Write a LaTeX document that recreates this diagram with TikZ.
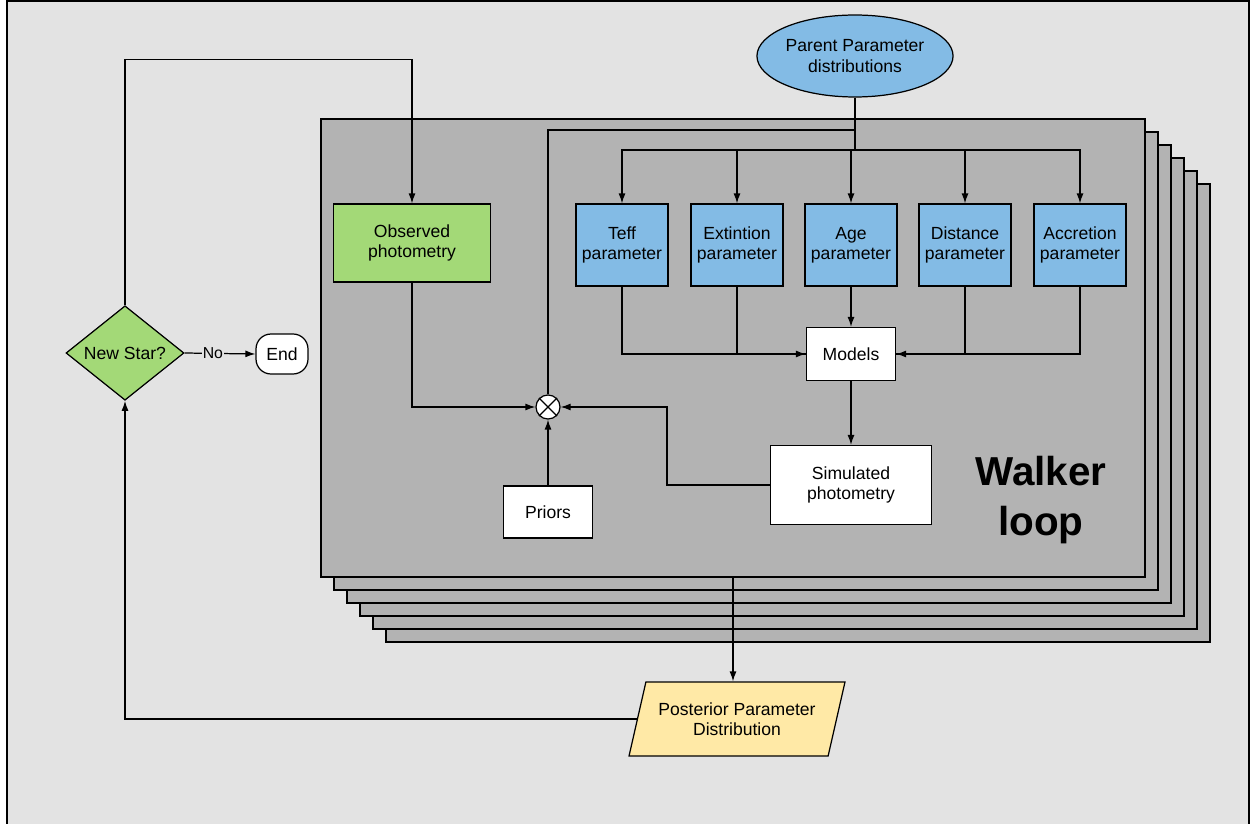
\documentclass[tikz,border=0pt]{standalone}
\usepackage{fontspec}
\setmainfont{Liberation Sans}
\usetikzlibrary{shapes.geometric,arrows.meta}

\definecolor{bggray}{HTML}{E3E3E3}
\definecolor{sheetgray}{HTML}{B3B3B3}
\definecolor{parblue}{HTML}{83BBE5}
\definecolor{obsgreen}{HTML}{A3D977}
\definecolor{postyellow}{HTML}{FFE9A6}

\begin{document}
\begin{tikzpicture}[x=0.02cm, y=-0.02cm, >={Latex[length=2mm,width=1.4mm]}, line width=0.7pt, font=\fontsize{10}{11.5}\selectfont]

\tikzstyle sheet=[draw, fill=sheetgray]
\tikzstyle param=[draw, fill=parblue, align=center, minimum width=1.84cm, minimum height=1.64cm, inner sep=0]
\tikzstyle block=[draw, fill=white, align=center, inner sep=0]

\useasboundingbox (0,0) rectangle (1250,824);
\draw[fill=bggray] (7,1) rectangle (1249,840);

% stack of walkers
\foreach \i in {5,4,...,1}
  \draw[sheet] (321+13*\i,119+13*\i) rectangle ++(824,458);
\node (walker) [sheet, minimum width=16.48cm, minimum height=9.16cm, inner sep=0] at (733,348) {};
\node (loop) [font=\fontsize{23}{28.5}\selectfont\bfseries, align=center] at (1041,500) {Walker\\loop};

\node (parent) [ellipse, draw, fill=parblue, align=center, minimum width=3.52cm, minimum height=1.64cm, inner sep=0] at (855,56) {Parent Parameter\\distributions};

\node (teff) [param] at (622,245) {Teff\\parameter};
\node (ext)  [param] at (737,245) {Extintion\\parameter};
\node (age)  [param] at (851,245) {Age\\parameter};
\node (dist) [param] at (965,245) {Distance\\parameter};
\node (acc)  [param] at (1080,245) {Accretion\\parameter};

\node (obs) [draw, fill=obsgreen, align=center, minimum width=3.14cm, minimum height=1.56cm, inner sep=0] at (412,243) {Observed\\photometry};
\node (models) [block, minimum width=1.78cm, minimum height=1.06cm] at (851,354) {Models};
\node (sim) [block, minimum width=3.22cm, minimum height=1.58cm] at (851,485) {Simulated\\photometry};
\node (priors) [block, minimum width=1.78cm, minimum height=1.04cm] at (548,512) {Priors};
\node (comb) [circle, draw, fill=white, minimum size=0.48cm, inner sep=0] at (548,407) {};
\draw (comb.north west) -- (comb.south east);
\draw (comb.north east) -- (comb.south west);

\node (star) [diamond, draw, fill=obsgreen, minimum width=2.36cm, minimum height=1.86cm, inner sep=0] at (125,353) {New Star?};
\node (end) [draw, fill=white, rounded corners=0.3cm, minimum width=1.04cm, minimum height=0.8cm] at (282,354) {End};
\node (post) [trapezium, trapezium left angle=63, trapezium right angle=117, trapezium stretches body=true, draw, fill=postyellow, align=center, minimum width=4.32cm, minimum height=1.48cm, inner sep=0] at (737,719) {Posterior Parameter\\Distribution};

\coordinate (tap) at (855,130);
\coordinate (split) at (855,150);

\draw (parent.south) -- (split);
\draw (tap) -| (comb.north);
\draw [->] (split) -| (teff.north);
\draw [->] (split) -| (ext.north);
\draw [->] (split) -- (split -| age.north) -- (age.north);
\draw [->] (split) -| (dist.north);
\draw [->] (split) -| (acc.north);

\draw [->] (teff.south) |- (models.west);
\draw (ext.south) |- (models.west);
\draw [->] (age.south) -- (models.north);
\draw [->] (acc.south) |- (models.east);
\draw (dist.south) |- (models.east);
\draw [->] (models.south) -- (sim.north);

\draw [->] (obs.south) |- (comb.west);
\draw [->] (sim.west) -- ++(-103,0) |- (comb.east);
\draw [->] (priors.north) -- (comb.south);

\draw [->] (walker.south) -- (post.north -| walker.south);
\draw [->] (post.west) -| (star.south);
\draw [->] (star.north) -- ++(0,-246) -| (obs.north);
\draw [->] (star.east) -- node[pos=0.4, fill=bggray, inner sep=0.5pt, font=\fontsize{9}{10}\selectfont] {No} (end.west);

\end{tikzpicture}
\end{document}
